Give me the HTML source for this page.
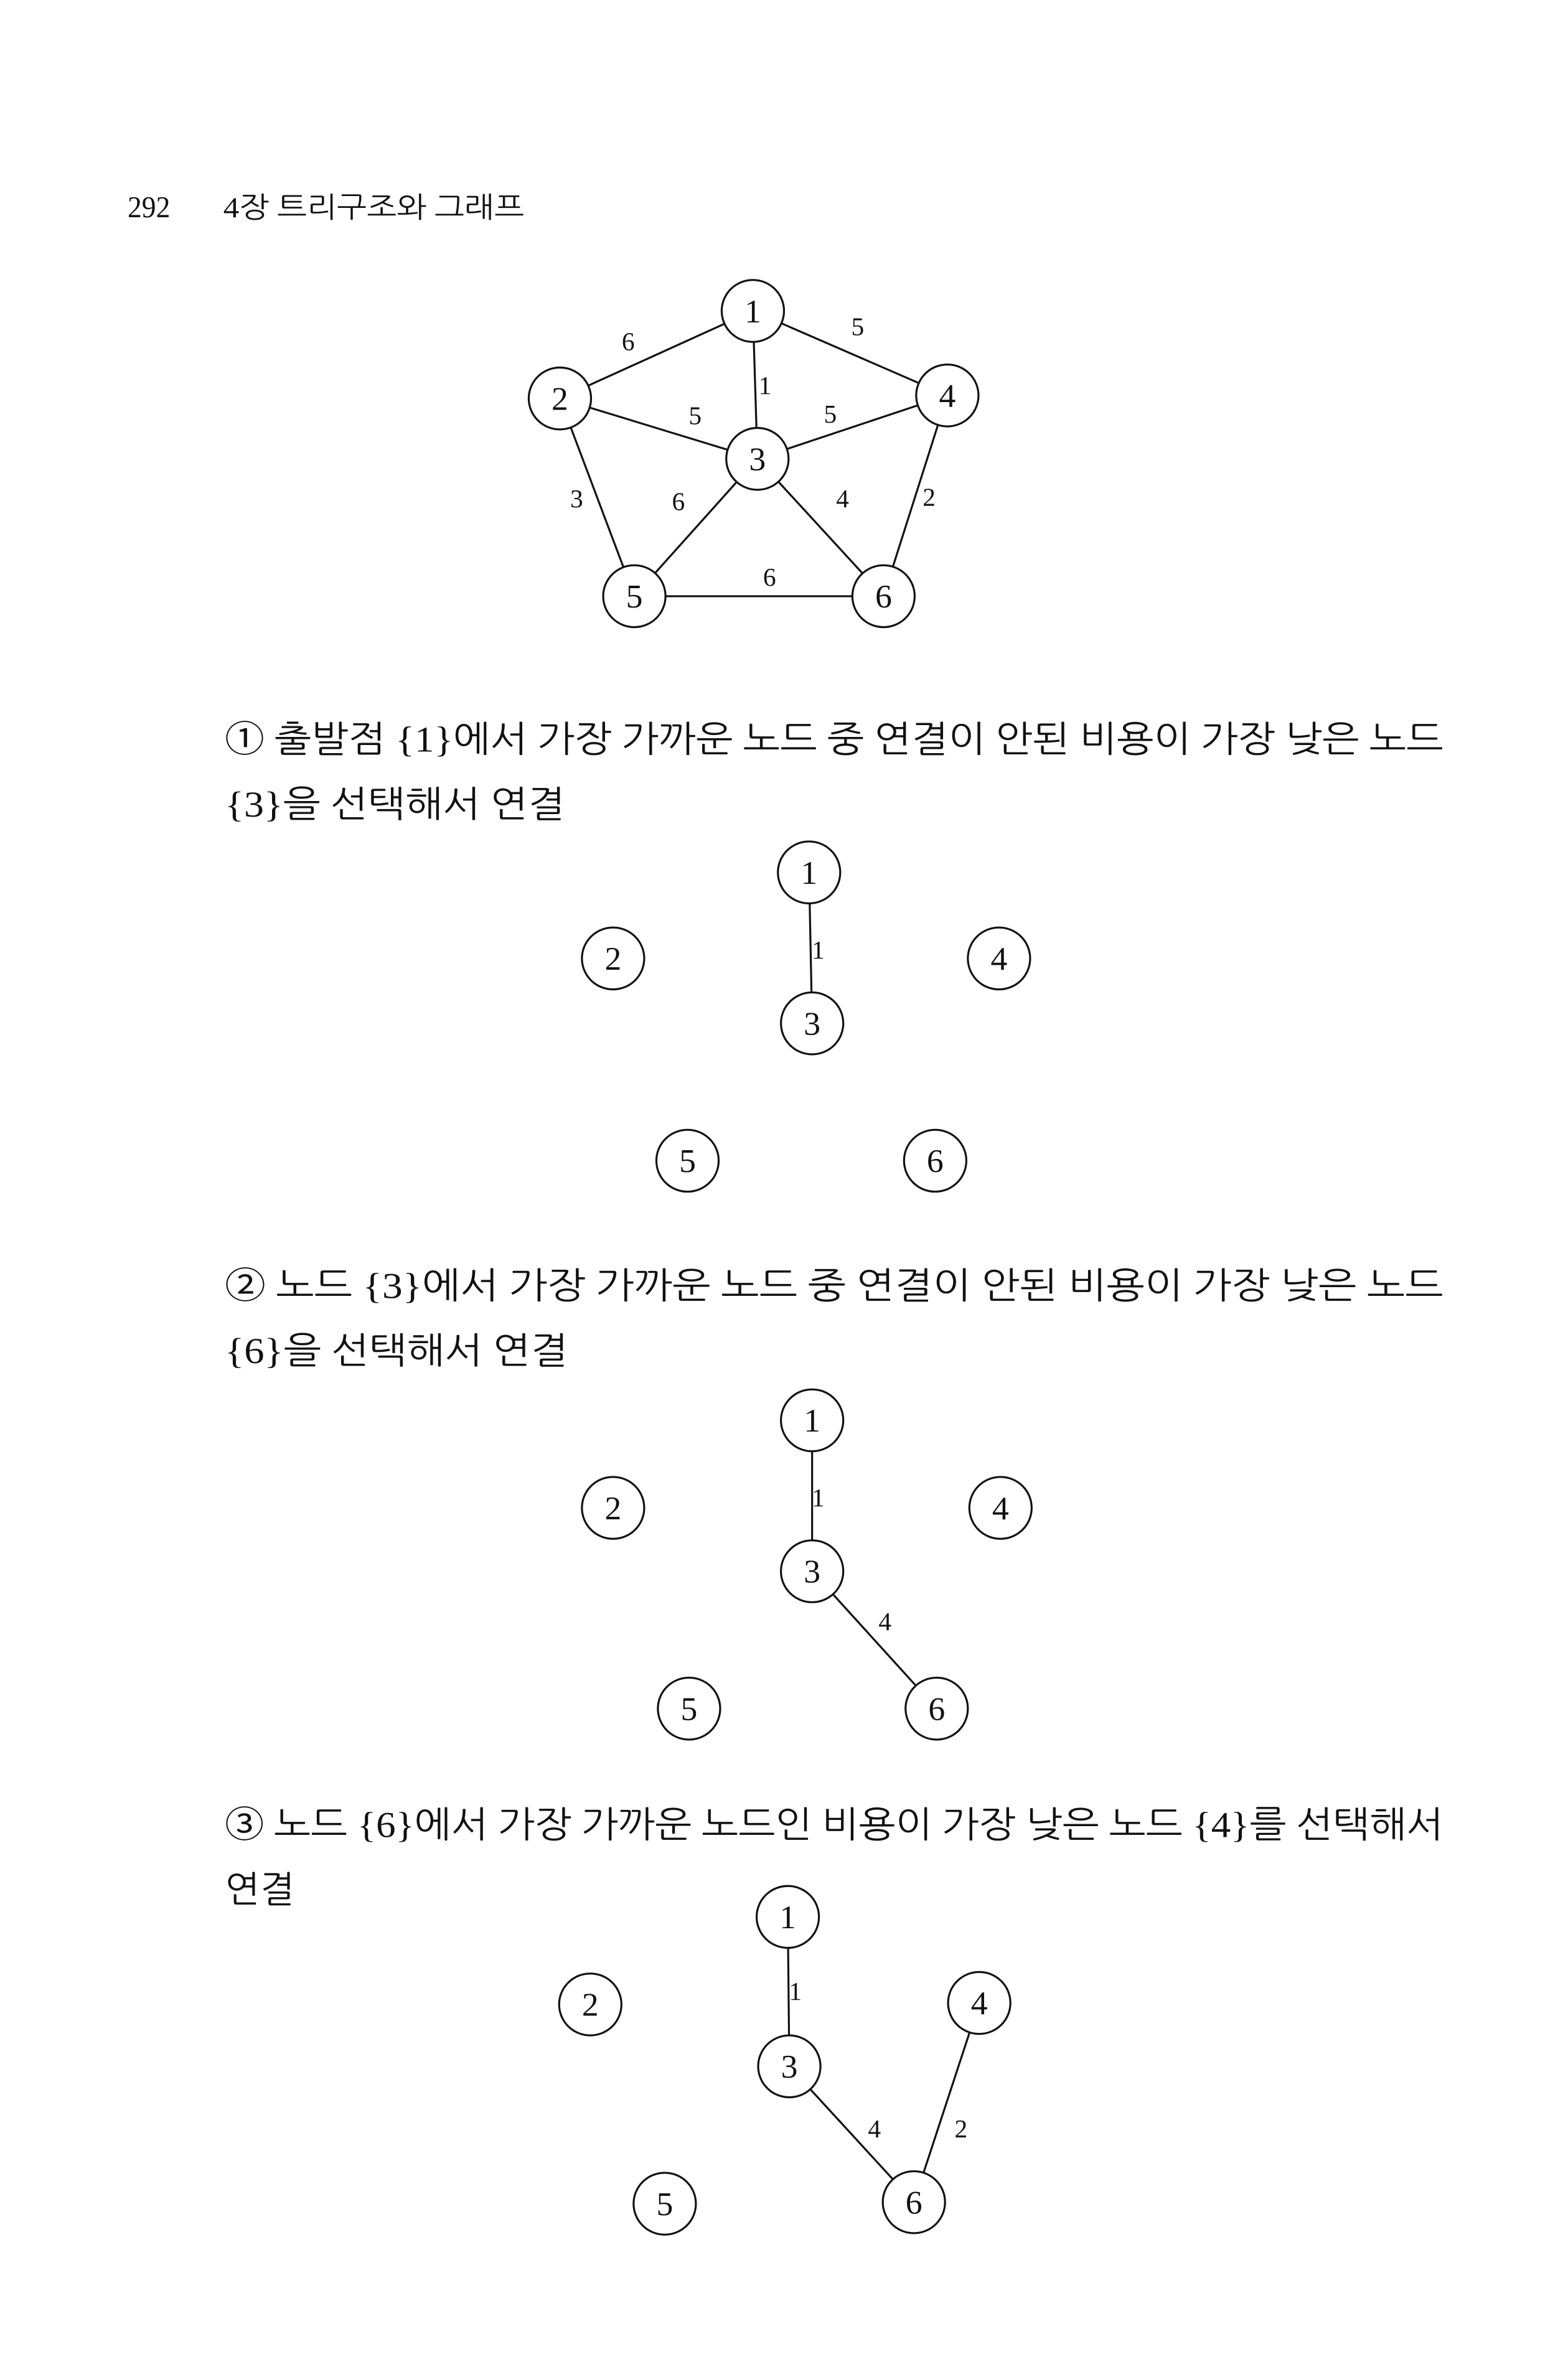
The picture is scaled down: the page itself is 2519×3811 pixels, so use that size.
<!DOCTYPE html>
<html><head><meta charset="utf-8">
<style>
html,body{margin:0;padding:0;background:#fff;}
svg{display:block;}
text{font-family:"Liberation Serif","Noto Serif CJK SC","Noto Sans CJK KR",serif;fill:#111;}
.kr{font-family:"Liberation Serif","NanumGothic","Noto Sans CJK KR",sans-serif;}
</style></head>
<body>
<svg id="page" width="2519" height="3811" viewBox="0 0 1032 1571.5" preserveAspectRatio="none" xmlns="http://www.w3.org/2000/svg">
<text x="84" y="144" font-size="20" textLength="28" lengthAdjust="spacingAndGlyphs">292</text>
<text class="kr" x="147" y="144" font-size="19" textLength="198" lengthAdjust="spacingAndGlyphs">4장 트리구조와 그래프</text>

<text class="kr" x="148" y="498" font-size="24" textLength="802" lengthAdjust="spacingAndGlyphs">① 출발점 {1}에서 가장 가까운 노드 중 연결이 안된 비용이 가장 낮은 노드</text>
<text class="kr" x="148" y="541" font-size="24" textLength="224" lengthAdjust="spacingAndGlyphs">{3}을 선택해서 연결</text>

<text class="kr" x="148" y="860" font-size="24" textLength="802" lengthAdjust="spacingAndGlyphs">② 노드 {3}에서 가장 가까운 노드 중 연결이 안된 비용이 가장 낮은 노드</text>
<text class="kr" x="148" y="903" font-size="24" textLength="226" lengthAdjust="spacingAndGlyphs">{6}을 선택해서 연결</text>

<text class="kr" x="148" y="1217" font-size="24" textLength="802" lengthAdjust="spacingAndGlyphs">③ 노드 {6}에서 가장 가까운 노드인 비용이 가장 낮은 노드 {4}를 선택해서</text>
<text class="kr" x="148" y="1260" font-size="24" textLength="46" lengthAdjust="spacingAndGlyphs">연결</text>
<g id="graphs" transform="translate(-1.5,-1)"></g>
</svg>
<script>
// Node positions per graph (node id order 1..6)
const g1Nodes = [[497,207],[370,265],[500,305],[625,263],[419,396],[583,396]];
const g2Nodes = [[534,579],[405,636],[536,679],[659,636],[454,770],[617,770]];
const g3Nodes = [[536,942],[405,1000],[536,1042],[660,1000],[455,1133],[618,1133]];
const g4Nodes = [[520,1271],[390,1329],[521,1370],[646,1328],[439,1461],[603,1460]];
// Edges: [from, to, weight]
const g1Edges = [[1,2,6],[1,4,5],[1,3,1],[2,3,5],[3,4,5],[2,5,3],[3,5,6],[3,6,4],[4,6,2],[5,6,6]];
const g2Edges = [[1,3,1]];
const g3Edges = [[1,3,1],[3,6,4]];
const g4Edges = [[1,3,1],[3,6,4],[4,6,2]];
// weight label positions
const g1Labels = [[415,227],[566,217],[505,256],[459,276],[548,275],[381,331],[448,333],[556,331],[613,330],[508,383]];
const g2Labels = [[540,630]];
const g3Labels = [[540,993],[584,1075]];
const g4Labels = [[525,1320],[577,1411],[634,1411]];

const NS = "http://www.w3.org/2000/svg";
const root = document.getElementById('graphs');
const R = 20.5;
function drawGraph(nodes, edges, labels, gi){
  const g = document.createElementNS(NS,'g');
  
  
  root.appendChild(g);
  edges.forEach((e,i)=>{
    const a = nodes[e[0]-1], b = nodes[e[1]-1];
    const dx=b[0]-a[0], dy=b[1]-a[1], L=Math.hypot(dx,dy);
    const ln = document.createElementNS(NS,'line');
    ln.setAttribute('x1', a[0]+dx/L*R); ln.setAttribute('y1', a[1]+dy/L*R);
    ln.setAttribute('x2', b[0]-dx/L*R); ln.setAttribute('y2', b[1]-dy/L*R);
    ln.setAttribute('stroke','#111'); ln.setAttribute('stroke-width','1.3');
    
    
    g.appendChild(ln);
    const t = document.createElementNS(NS,'text');
    t.setAttribute('x', labels[i][0]); t.setAttribute('y', labels[i][1]+6);
    t.setAttribute('font-size','17'); t.setAttribute('text-anchor','middle');
    t.textContent = e[2];
    
    
    g.appendChild(t);
  });
  nodes.forEach((p,i)=>{
    const c = document.createElementNS(NS,'circle');
    c.setAttribute('cx',p[0]); c.setAttribute('cy',p[1]); c.setAttribute('r',R);
    c.setAttribute('fill','#fff'); c.setAttribute('stroke','#111'); c.setAttribute('stroke-width','1.3');
    
    
    g.appendChild(c);
    const t = document.createElementNS(NS,'text');
    t.setAttribute('x',p[0]); t.setAttribute('y',p[1]+7.5);
    t.setAttribute('font-size','22'); t.setAttribute('text-anchor','middle');
    t.textContent = i+1;
    
    
    g.appendChild(t);
  });
}
drawGraph(g1Nodes,g1Edges,g1Labels,1);
drawGraph(g2Nodes,g2Edges,g2Labels,2);
drawGraph(g3Nodes,g3Edges,g3Labels,3);
drawGraph(g4Nodes,g4Edges,g4Labels,4);
</script>
</body></html>
